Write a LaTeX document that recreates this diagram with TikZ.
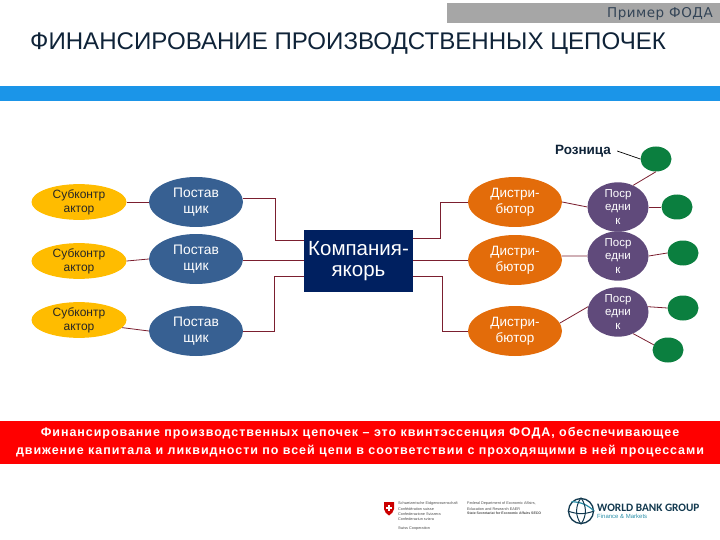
\documentclass[tikz,border=0pt]{standalone}
\usepackage{fontspec}
\setmainfont{Liberation Sans}
\newfontfamily\wideb[LetterSpace=7.5]{Liberation Sans}
\newfontfamily\tagf[LetterSpace=4]{DejaVu Sans}
\newfontfamily\wbf{Carlito}
\usetikzlibrary{shapes.geometric}
\definecolor{linkred}{HTML}{7B1F2F}
\definecolor{subyel}{HTML}{FFBC00}
\definecolor{postblue}{HTML}{376092}
\definecolor{distor}{HTML}{E36C0A}
\definecolor{posrpur}{HTML}{604A7B}
\definecolor{retgreen}{HTML}{0B7F3F}
\definecolor{compnavy}{HTML}{002060}
\definecolor{titlenavy}{HTML}{0F2338}
\definecolor{bandblue}{HTML}{1B95E8}
\definecolor{wbnavy}{HTML}{12394F}
\definecolor{wbteal}{HTML}{2A8FA8}
\tikzset{
    lowered/.style = {execute at begin node={\rule{0pt}{#1}}},
    lowered/.default = 1.05em,
    subnode/.style = {ellipse, fill=subyel, inner sep=0pt, minimum width=95pt, minimum height=32pt, align=center, font=\fontsize{12}{14}\selectfont, text=black!85},
    postnode/.style = {ellipse, fill=postblue, inner sep=0pt, minimum width=94pt, minimum height=50pt, align=center, font=\fontsize{13.8}{16}\selectfont, text=white, lowered},
    distnode/.style = {ellipse, fill=distor, inner sep=0pt, minimum width=94pt, minimum height=50pt, align=center, font=\fontsize{13.5}{16}\selectfont, text=white, lowered},
    posrnode/.style = {ellipse, fill=posrpur, inner sep=0pt, minimum width=61pt, minimum height=38pt, align=center, font=\fontsize{11.5}{13.5}\selectfont, text=white},
    retnode/.style = {ellipse, fill=retgreen, inner sep=0pt, minimum width=31pt, minimum height=25pt},
    compnode/.style = {rectangle, fill=compnavy, inner sep=0pt, minimum width=109pt, minimum height=62pt, align=center, font=\fontsize{20.5}{21}\selectfont, text=white, lowered=1.3em},
    band/.style = {rectangle, inner sep=0pt, anchor=north west},
    link/.style = {linkred, line width=0.8pt},
    smalltxt/.style = {anchor=west, inner sep=0pt, font=\fontsize{3.8}{5}\selectfont, text=black!70},
}
\begin{document}
\begin{tikzpicture}[x=1pt,y=-1pt]
\useasboundingbox (0,0) rectangle (720,540);
% header
\node[band, fill=black!35, minimum width=273pt, minimum height=20pt] at (447,3) (tagbar) {};
\node[anchor=east, inner sep=0pt, font=\tagf\fontsize{13.5}{15}\selectfont, text=titlenavy!85] at (713,14) (tag) {Пример ФОДА};
\node[anchor=west, inner sep=0pt, font=\fontsize{24.1}{28}\selectfont, text=titlenavy] at (30,43) (title) {ФИНАНСИРОВАНИЕ ПРОИЗВОДСТВЕННЫХ ЦЕПОЧЕК};
\node[band, fill=bandblue, minimum width=720pt, minimum height=15pt] at (0,86) (blueband) {};
% nodes
\node[subnode] at (79,202) (sub1) {Субконтр\\актор};
\node[subnode] at (79,261) (sub2) {Субконтр\\актор};
\node[subnode] at (79,320) (sub3) {Субконтр\\актор};
\node[postnode] at (196,202) (post1) {Постав\\щик};
\node[postnode] at (196,259) (post2) {Постав\\щик};
\node[postnode] at (196,331) (post3) {Постав\\щик};
\node[compnode] at (358.5,261) (comp) {Компания-\\якорь};
\node[distnode] at (515,202) (dist1) {Дистри-\\бютор};
\node[distnode] at (515,260) (dist2) {Дистри-\\бютор};
\node[distnode] at (515,331) (dist3) {Дистри-\\бютор};
\node[posrnode] at (618,207) (posr1) {Поср\\едни\\к};
\node[posrnode] at (618,256) (posr2) {Поср\\едни\\к};
\node[posrnode] at (618,312) (posr3) {Поср\\едни\\к};
\node[retnode] at (656,159) (ret1) {};
\node[retnode] at (677,207) (ret2) {};
\node[retnode] at (683,253) (ret3) {};
\node[retnode] at (683,308) (ret4) {};
\node[retnode] at (668,350) (ret5) {};
\node[font=\bfseries\fontsize{13.5}{15}\selectfont, text=titlenavy, inner sep=0pt] at (583,151) (retail) {Розница};
%
\draw[link] (sub1.east) -- (post1.west);
\draw[link] (sub2.east) -- (post2.west);
\draw[link] (sub3.-10) -- (post3.west);
\draw[link] (post1.east |- 0,198) -- ++(32,0) |- ([yshift=21pt]comp.west);
\draw[link] (post2.east |- dist2.west) -- (comp.west |- dist2.west);
\draw[link] (post3.east) -- ++(31,0) |- ([yshift=-15pt]comp.west);
\draw[link] ([yshift=23pt]comp.east) -- ++(27,0) |- (dist1.west);
\draw[link] (comp.east |- dist2.west) -- (dist2.west);
\draw[link] ([yshift=-15pt]comp.east) -- ++(29,0) |- (dist3.west);
\draw[link] (dist1.east) -- (posr1.west);
\draw[link] (dist2.5) -- (posr2.west);
\draw[link] (dist3.10) -- (posr3.170);
\draw[link] (posr1.east) -- (ret2.west);
\draw[link] (posr2.east) -- (ret3.west);
\draw[link] (posr3.10) -- (ret4.west);
\draw[link] (posr1.55) -- (ret1.south);
\draw[link] (posr3.-55) -- (ret5.160);
\draw[black, line width=0.7pt] (retail.east) ++(6,0) -- (ret1.west);
% red banner
\node[band, fill=red, minimum width=720pt, minimum height=43pt] at (0,421) (redband) {};
\node[anchor=center, inner sep=0pt, align=center, text=white, font=\wideb\bfseries\fontsize{12.5}{18}\selectfont] at (360,442) (bannertxt) {Финансирование производственных цепочек – это квинтэссенция ФОДА, обеспечивающее\\движение капитала и ликвидности по всей цепи в соответствии с проходящими в ней процессами};
% logos
\fill[red!80!black] (384,502) -- (394,502) -- (394,509) .. controls (394,512) and (391,514) .. (389,515.5) .. controls (387,514) and (384,512) .. (384,509) -- cycle;
\node[fill=white, inner sep=0pt, minimum width=6.5pt, minimum height=2pt] at (389,508) (crossh) {};
\node[fill=white, inner sep=0pt, minimum width=2pt, minimum height=6.5pt] at (389,508) (crossv) {};
\node[smalltxt] at (398,504) (ch1) {Schweizerische Eidgenossenschaft};
\node[smalltxt] at (398,509.5) (ch2) {Confédération suisse};
\node[smalltxt] at (398,514) (ch3) {Confederazione Svizzera};
\node[smalltxt] at (398,519) (ch4) {Confederaziun svizra};
\node[smalltxt] at (398,528.5) (ch5) {Swiss Cooperation};
\node[smalltxt] at (467,504) (de1) {Federal Department of Economic Affairs,};
\node[smalltxt] at (467,509) (de2) {Education and Research EAER};
\node[smalltxt, font=\bfseries\fontsize{3.5}{5}\selectfont] at (467,513.5) (de3) {State Secretariat for Economic Affairs SECO};
\node[circle, draw=wbnavy, line width=1.3pt, inner sep=0pt, minimum size=25pt] at (581,511) (globe) {};
\draw[wbteal, line width=1.2pt] (globe.north west) to[bend left=20] (globe.east);
\draw[wbnavy, line width=1pt] (globe.north) to[bend right=35] (globe.south);
\draw[wbnavy, line width=1pt] (globe.north) to[bend left=35] (globe.south);
\draw[wbnavy, line width=1pt] (globe.west) to[bend right=20] (globe.east);
\node[anchor=west, inner sep=0pt, font=\wbf\bfseries\fontsize{11.3}{14}\selectfont, text=wbnavy] at (597,507.5) (wb) {WORLD BANK GROUP};
\node[anchor=west, inner sep=0pt, font=\fontsize{6}{8}\selectfont, text=wbteal] at (597,516) (wbsub) {Finance \& Markets};
\end{tikzpicture}
\end{document}
